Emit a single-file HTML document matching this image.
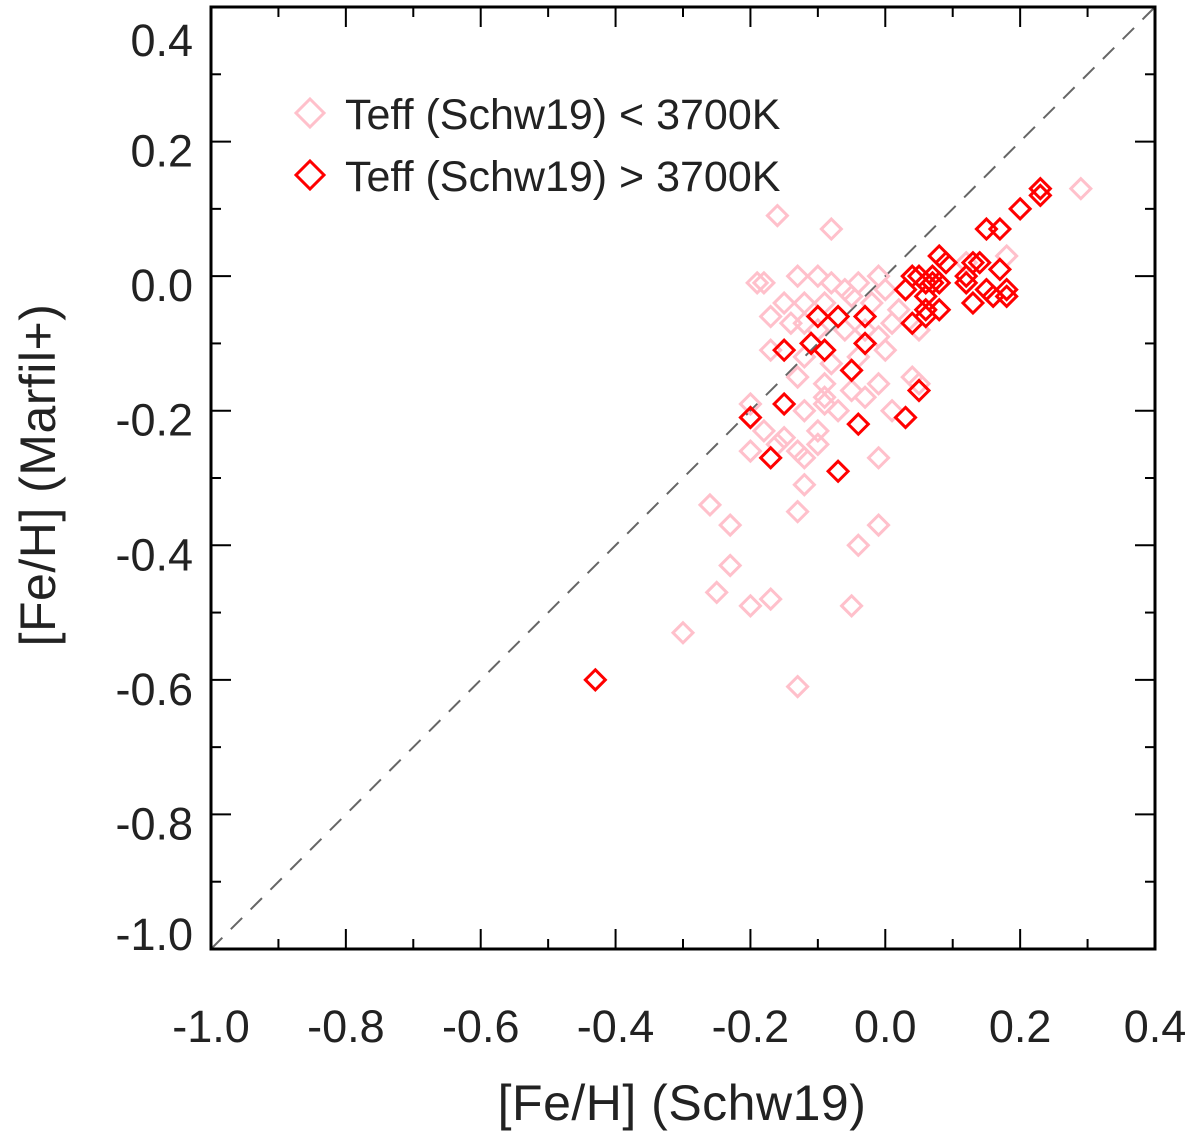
<!DOCTYPE html>
<html><head><meta charset="utf-8"><style>
html,body{margin:0;padding:0;background:#fff}
svg{display:block;font-family:"Liberation Sans",sans-serif}
</style></head><body>
<svg id="chart" width="1200" height="1139" viewBox="0 0 1200 1139" xmlns="http://www.w3.org/2000/svg">
<g id="ticks"></g>
<g id="labels"></g>
<line x1="211" y1="949" x2="1155" y2="7" stroke="#666" stroke-width="2" stroke-dasharray="16,12"/>
<g id="pts"></g>
<rect x="211" y="7" width="944" height="942" fill="none" stroke="#000" stroke-width="3"/>
<g>
<path d="M310 99 L324 113 L310 127 L296 113 Z" fill="none" stroke="#ffc0cb" stroke-width="3"/>
<text x="345" y="129" font-size="43" fill="#222">Teff (Schw19) &lt; 3700K</text>
<path d="M310 161 L324 175 L310 189 L296 175 Z" fill="none" stroke="#ff0000" stroke-width="3"/>
<text x="345" y="191" font-size="43" fill="#222">Teff (Schw19) &gt; 3700K</text>
</g>
<text x="682" y="1120" font-size="50" letter-spacing="0.5" text-anchor="middle" fill="#222">[Fe/H] (Schw19)</text>
<text transform="translate(55,475) rotate(-90)" font-size="50" letter-spacing="0.5" text-anchor="middle" fill="#222">[Fe/H] (Marfil+)</text>
</svg>
<script>
const xTickLabels = ["-1.0","-0.8","-0.6","-0.4","-0.2","0.0","0.2","0.4"];
const yTickLabels = ["-1.0","-0.8","-0.6","-0.4","-0.2","0.0","0.2","0.4"];
const coolX = [0.29,-0.16,-0.08,-0.18,-0.19,-0.13,-0.10,-0.08,-0.04,-0.01,-0.06,-0.15,-0.12,-0.09,-0.05,-0.02,-0.17,-0.14,-0.12,-0.10,-0.06,-0.03,-0.01,0.02,0.05,-0.17,-0.12,-0.08,-0.04,0.00,-0.13,-0.09,-0.05,-0.03,-0.01,-0.09,-0.07,-0.12,0.01,0.04,-0.20,-0.18,-0.16,-0.15,-0.20,-0.13,-0.12,-0.10,-0.10,-0.12,-0.13,-0.01,0.05,0.18,0.12,0.01,-0.26,-0.23,-0.23,-0.25,-0.20,-0.17,-0.30,-0.13,-0.05,-0.04,-0.01,0.00,-0.09];
const coolY = [0.13,0.09,0.07,-0.01,-0.01,0.00,0.00,-0.01,-0.01,0.00,-0.02,-0.04,-0.04,-0.04,-0.03,-0.04,-0.06,-0.07,-0.07,-0.08,-0.08,-0.08,-0.09,-0.05,-0.08,-0.11,-0.12,-0.13,-0.12,-0.11,-0.15,-0.16,-0.17,-0.18,-0.16,-0.19,-0.20,-0.20,-0.20,-0.15,-0.19,-0.23,-0.25,-0.24,-0.26,-0.26,-0.27,-0.23,-0.25,-0.31,-0.35,-0.27,-0.16,0.03,0.02,-0.07,-0.34,-0.37,-0.43,-0.47,-0.49,-0.48,-0.53,-0.61,-0.49,-0.40,-0.37,-0.02,-0.18];
const warmX = [-0.43,-0.20,-0.17,-0.15,-0.15,-0.11,-0.09,-0.10,-0.07,-0.07,-0.05,-0.04,-0.03,-0.03,0.03,0.05,0.03,0.04,0.04,0.05,0.06,0.06,0.07,0.07,0.08,0.08,0.09,0.06,0.06,0.08,0.12,0.12,0.13,0.13,0.14,0.15,0.16,0.15,0.17,0.17,0.18,0.18,0.20,0.23,0.23];
const warmY = [-0.60,-0.21,-0.27,-0.19,-0.11,-0.10,-0.11,-0.06,-0.06,-0.29,-0.14,-0.22,-0.10,-0.06,-0.21,-0.17,-0.02,-0.07,0.00,0.00,-0.01,-0.03,0.00,-0.01,0.03,-0.01,0.02,-0.05,-0.06,-0.05,0.00,-0.01,0.02,-0.04,0.02,-0.02,-0.03,0.07,0.07,0.01,-0.02,-0.03,0.10,0.13,0.12];

const X0=211,X1=1155,Y0=949,Y1=7;
const sx=v=>X0+(v+1.0)/1.4*(X1-X0);
const sy=v=>Y0-(v+1.0)/1.4*(Y0-Y1);
const NS="http://www.w3.org/2000/svg";
function mk(tag,attrs,parent){const e=document.createElementNS(NS,tag);for(const k in attrs)e.setAttribute(k,attrs[k]);parent.appendChild(e);return e;}
const ticks=document.getElementById('ticks'),labels=document.getElementById('labels'),pts=document.getElementById('pts');
for(let i=0;i<=14;i++){
  const v=-1.0+i*0.1, major=i%2===0, L=major?20:10;
  const x=sx(v), y=sy(v);
  [[x,Y0,x,Y0-L],[x,Y1,x,Y1+L],[X0,y,X0+L,y],[X1,y,X1-L,y]].forEach(c=>{
    const t=mk('line',{x1:c[0],y1:c[1],x2:c[2],y2:c[3],stroke:'#000','stroke-width':2},ticks);
    
    
  });
}
xTickLabels.forEach((s,i)=>{
  const t=mk('text',{x:sx(-1.0+i*0.2),y:1042,'font-size':45,'text-anchor':'middle',fill:'#222'},labels);
  t.textContent=s;
  
  
});
yTickLabels.forEach((s,i)=>{
  const yy=Math.min(950,Math.max(56,sy(-1.0+i*0.2)+25));
  const t=mk('text',{x:193,y:yy,'font-size':45,'text-anchor':'end',fill:'#222'},labels);
  t.textContent=s;
  
  
});
function diamond(x,y,col,name){
  const d=10;
  const p=mk('path',{d:`M${x} ${y-d} L${x+d} ${y} L${x} ${y+d} L${x-d} ${y} Z`,fill:'none',stroke:col,'stroke-width':3},pts);
  
  
}
coolX.forEach((v,i)=>diamond(sx(v),sy(coolY[i]),'#ffc0cb','point-cool'));
warmX.forEach((v,i)=>diamond(sx(v),sy(warmY[i]),'#ff0000','point-warm'));
</script>
</body></html>
